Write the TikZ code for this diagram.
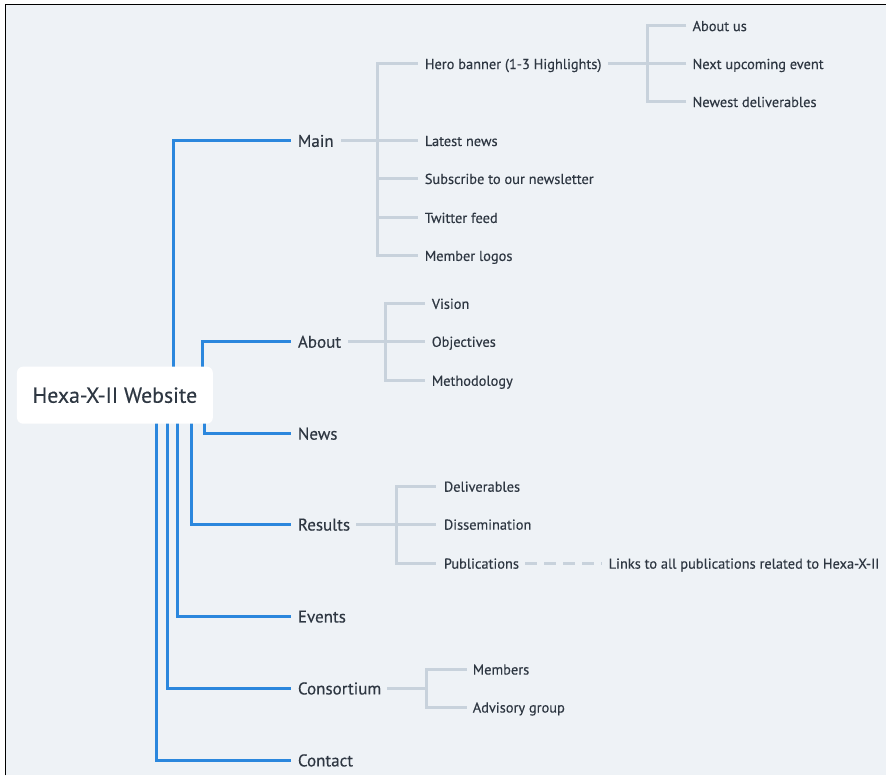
\documentclass[tikz,border=0pt]{standalone}
\usepackage{fontspec}
\setmainfont{PT Sans}[FakeBold=0.35]
\usetikzlibrary{calc}
\definecolor{bgc}{HTML}{EEF2F6}
\definecolor{bluel}{HTML}{2B87DD}
\definecolor{grayl}{HTML}{C8D2DC}
\definecolor{txt}{HTML}{2E3742}
\begin{document}
\begin{tikzpicture}[x=1pt,y=-1pt,
  lone/.style={anchor=west,inner sep=0pt,text height=12pt,text depth=0pt,text=txt,font=\fontsize{17}{20}\selectfont},
  ltwo/.style={anchor=west,inner sep=0pt,text height=10.2pt,text depth=0pt,text=txt,font=\fontsize{14.4}{17}\selectfont},
  rootbox/.style={draw=none,fill=white,rounded corners=6pt,minimum width=196pt,minimum height=57pt,inner sep=0pt,text=txt,font=\fontsize{21.8}{25}\selectfont},
  bl/.style={draw=bluel,line width=3pt},
  gl/.style={draw=grayl,line width=3pt},
  dl/.style={draw=grayl,line width=2.6pt,dash pattern=on 12pt off 7pt}]
\fill[white] (0,0) rectangle (887,776);
\fill[bgc] (5.5,4.5) rectangle (887,776);
\draw[black,line width=1.5pt] (5.5,776) -- (5.5,4.5) -- (887,4.5);

% level 1
\node[lone] (main) at (298,141) {Main};
\node[lone] (about) at (298,342) {About};
\node[lone] (news) at (298,434) {News};
\node[lone] (results) at (298,525) {Results};
\node[lone] (events) at (298,617) {Events};
\node[lone] (consortium) at (298,689) {Consortium};
\node[lone] (contact) at (298,761) {Contact};

% level 2
\node[ltwo] (hero) at (425,64) {Hero banner (1-3 Highlights)};
\node[ltwo] (latest) at (425,141) {Latest news};
\node[ltwo] (subscribe) at (425,179) {Subscribe to our newsletter};
\node[ltwo] (twitter) at (425,218) {Twitter feed};
\node[ltwo] (logos) at (425,256) {Member logos};
\node[ltwo] (aboutus) at (693,26) {About us};
\node[ltwo] (nextevent) at (693,64) {Next upcoming event};
\node[ltwo] (newest) at (693,102) {Newest deliverables};
\node[ltwo] (vision) at (432,304) {Vision};
\node[ltwo] (objectives) at (432,342) {Objectives};
\node[ltwo] (methodology) at (432,381) {Methodology};
\node[ltwo] (deliv) at (444,487) {Deliverables};
\node[ltwo] (dissem) at (444,525) {Dissemination};
\node[ltwo] (pubs) at (444,564) {Publications};
\node[ltwo] (links) at (609,564) {Links to all publications related to Hexa-X-II};
\node[ltwo] (members) at (473,670) {Members};
\node[ltwo] (advisory) at (473,708) {Advisory group};

% blue connectors (drawn before root box so box covers ends)
\draw[bl] ([xshift=-7pt]main.west) -| ($(17,395.5)+(157,-20)$);
\draw[bl] ([xshift=-7pt]about.west) -| ($(17,395.5)+(186,-20)$);
\draw[bl] ([xshift=-7pt]news.west) -| ($(17,395.5)+(188,20)$);
\draw[bl] ([xshift=-7pt]results.west) -| ($(17,395.5)+(175,20)$);
\draw[bl] ([xshift=-7pt]events.west) -| ($(17,395.5)+(161,20)$);
\draw[bl] ([xshift=-7pt]consortium.west) -| ($(17,395.5)+(151,20)$);
\draw[bl] ([xshift=-7pt]contact.west) -| ($(17,395.5)+(140,20)$);

\node[rootbox] (root) at (115,395.5) {Hexa-X-II Website};

% gray connectors
\foreach \c in {hero,latest,subscribe,twitter,logos}
  \draw[gl] ([xshift=-7pt]\c.west) -- ++(-40,0) |- ([xshift=7pt]main.east);
\foreach \c in {aboutus,nextevent,newest}
  \draw[gl] ([xshift=-6pt]\c.west) -- ++(-39,0) |- ([xshift=6pt]hero.east);
\foreach \c in {vision,objectives,methodology}
  \draw[gl] ([xshift=-7pt]\c.west) -- ++(-39,0) |- ([xshift=7pt]about.east);
\foreach \c in {deliv,dissem,pubs}
  \draw[gl] ([xshift=-8pt]\c.west) -- ++(-39,0) |- ([xshift=6pt]results.east);
\foreach \c in {members,advisory}
  \draw[gl] ([xshift=-6pt]\c.west) -- ++(-40,0) |- ([xshift=6pt]consortium.east);
\draw[dl] ([xshift=6pt]pubs.east) -- ([xshift=-7pt]links.west);
\end{tikzpicture}
\end{document}
